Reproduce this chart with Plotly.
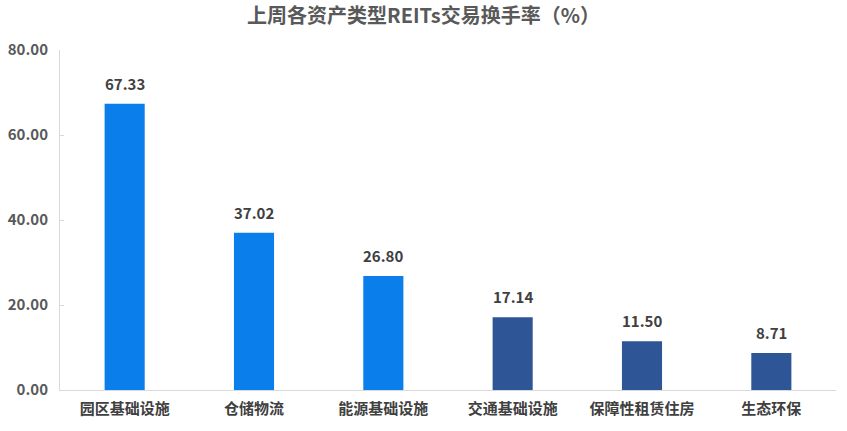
import plotly.graph_objects as go

categories = ["园区基础设施", "仓储物流", "能源基础设施", "交通基础设施", "保障性租赁住房", "生态环保"]
values = [67.33, 37.02, 26.80, 17.14, 11.50, 8.71]
colors = ["#0A7FEB", "#0A7FEB", "#0A7FEB", "#2E5596", "#2E5596", "#2E5596"]
title = "上周各资产类型REITs交易换手率（%）"
y_ticks = [0, 20, 40, 60, 80]

FONT = "Noto Sans CJK SC"

fig = go.Figure()
fig.add_trace(go.Bar(
    x=categories, y=values, marker=dict(color=colors, line=dict(width=0)),
    width=0.31, hoverinfo="skip",
))
for c, v in zip(categories, values):
    fig.add_annotation(x=c, y=v, text=f"<b>{v:.2f}</b>", showarrow=False,
                       yanchor="bottom", yshift=8,
                       font=dict(family=FONT, size=15, color="#404040"))

fig.update_layout(
    width=847, height=431,
    margin=dict(l=60, r=11, t=50, b=41, autoexpand=False),
    paper_bgcolor="white", plot_bgcolor="white",
    showlegend=False,
    title=dict(text=f"<b>{title}</b>", x=0.5, xanchor="center", y=0.962, yanchor="middle",
               automargin=False,
               font=dict(family=FONT, size=20, color="#595959")),
    xaxis=dict(showline=True, linecolor="#D9D9D9", linewidth=1, showgrid=False, automargin=False,
               ticks="", tickfont=dict(family=FONT, size=15, color="#404040"),
               ticklabelstandoff=5),
    yaxis=dict(range=[0, 80], tickvals=y_ticks, ticktext=[f"<b>{t:.2f}</b>" for t in y_ticks],
               showline=True, linecolor="#D9D9D9", linewidth=1, showgrid=False, zeroline=False,
               automargin=False,
               ticks="inside", ticklen=4, tickcolor="#D9D9D9",
               tickfont=dict(family=FONT, size=15, color="#595959"), ticklabelstandoff=8),
)
fig.update_xaxes(tickvals=categories, ticktext=[f"<b>{c}</b>" for c in categories])
fig.write_html("out.html", config={"displayModeBar": False},
               post_script="document.body.style.margin='0';")
